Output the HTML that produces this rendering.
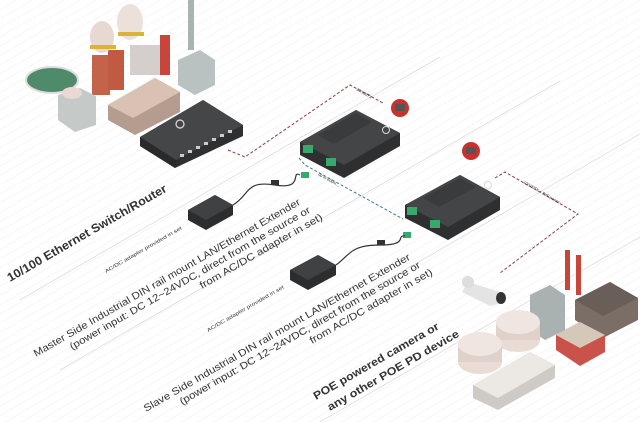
<!DOCTYPE html>
<html><head><meta charset="utf-8"><style>
html,body{margin:0;padding:0;background:#fff}
svg{display:block}
text{font-family:"Liberation Sans","DejaVu Sans",sans-serif;fill:#333}
</style></head><body>
<svg width="640" height="422" viewBox="0 0 640 422" xmlns="http://www.w3.org/2000/svg">
<defs>
<pattern id="g" width="16" height="9.24" patternUnits="userSpaceOnUse">
<path d="M0 9.24 L16 0" stroke="#f0f0f0" stroke-width="0.6"/>
</pattern>
</defs>
<rect width="640" height="422" fill="#fff"/>
<rect width="640" height="422" fill="url(#g)"/>
<g stroke="#dcdcdc" stroke-width="0.8">
<line x1="20" y1="300" x2="440" y2="57"/>
<line x1="60" y1="370" x2="560" y2="81"/>
<line x1="180" y1="400" x2="640" y2="134"/>
<line x1="320" y1="422" x2="640" y2="237"/>
</g>

<g>
<ellipse cx="52" cy="80" rx="26" ry="13" fill="#4f8a6a" stroke="#ddd" stroke-width="2"/>
<rect x="92" y="55" width="18" height="40" fill="#c4624a"/>
<rect x="108" y="50" width="16" height="40" fill="#c05a40"/>
<ellipse cx="102" cy="37" rx="12" ry="16" fill="#e8d8d2"/>
<ellipse cx="130" cy="22" rx="13" ry="18" fill="#ece0da"/>
<rect x="90" y="45" width="26" height="4" fill="#d9b43a"/>
<rect x="118" y="32" width="26" height="4" fill="#d9b43a"/>
<rect x="130" y="45" width="35" height="30" fill="#d4cfcc"/>
<rect x="160" y="35" width="10" height="40" fill="#c9443a"/>
<rect x="188" y="0" width="6" height="50" fill="#a9b3b2"/>
<polygon points="178,60 200,50 215,60 215,85 195,95 178,85" fill="#b9c2c1"/>
<polygon points="58,95 80,88 96,96 96,125 75,132 58,120" fill="#c5c9c8"/>
<ellipse cx="72" cy="93" rx="10" ry="6" fill="#ead8d2"/>
<polygon points="108,105 155,78 180,92 180,112 135,135 108,120" fill="#b49c8e"/>
<polygon points="108,105 155,78 180,92 133,118" fill="#d9c2b3"/>
</g>

<polygon points="140,137 203,100 243,125 243,136 175,168 140,146" fill="#2e2f31"/>
<polygon points="140,137 203,100 243,125 176,160" fill="#454648"/>
<polygon points="140,137 176,160 175,168 140,146" fill="#2a2a2b"/>
<g fill="#ccc"><rect x="180" y="154" width="4" height="3"/><rect x="188" y="150" width="4" height="3"/><rect x="196" y="146" width="4" height="3"/><rect x="204" y="142" width="4" height="3"/><rect x="212" y="138" width="4" height="3"/><rect x="220" y="134" width="4" height="3"/><rect x="228" y="130" width="4" height="3"/></g>
<circle cx="180" cy="124" r="4" fill="none" stroke="#ddd" stroke-width="1.2"/>

<g fill="none" stroke="#8a3a44" stroke-width="1" stroke-dasharray="3,2">
<polyline points="228,150 245,157 350,85 383,103"/>
<polyline points="495,178 505,172 578,214 500,273"/>
</g>
<polyline points="299,158 305,165 403,219" fill="none" stroke="#3e7c8c" stroke-width="1" stroke-dasharray="3,2"/>
<text transform="translate(356,90) rotate(30)" font-size="4" fill="#8a3a44">10/100TX</text>
<text transform="translate(523,183) rotate(30)" font-size="4" fill="#8a3a44">10/100TX + PoE power</text>
<text transform="translate(318,175) rotate(30)" font-size="4" fill="#3e6b9c">up to 600m ...</text>

<polygon points="300,142 356,110 400,133 400,146 344,178 300,155" fill="#2e2f31"/>
<polygon points="300,142 356,110 400,133 344,165" fill="#444547"/>
<polygon points="318,135 356,113 372,122 334,144" fill="#3a3b3d"/>
<circle cx="386" cy="130" r="3.5" fill="none" stroke="#ddd" stroke-width="1"/>
<rect x="303" y="145" width="10" height="8" fill="#3aa86a"/>
<rect x="326" y="158" width="10" height="8" fill="#3aa86a"/>
<rect x="301" y="172" width="8" height="6" fill="#3aa86a"/>
<circle cx="400" cy="108" r="9" fill="#c9312c"/><rect x="395" y="104" width="10" height="7" fill="#555"/>

<polygon points="405,205 460,175 500,197 500,210 448,240 405,218" fill="#2e2f31"/>
<polygon points="405,205 460,175 500,197 448,227" fill="#444547"/>
<polygon points="423,198 460,178 476,187 439,207" fill="#3a3b3d"/>
<circle cx="488" cy="185" r="3.5" fill="none" stroke="#ddd" stroke-width="1"/>
<rect x="407" y="207" width="10" height="8" fill="#3aa86a"/>
<rect x="430" y="220" width="10" height="8" fill="#3aa86a"/>
<rect x="403" y="232" width="8" height="6" fill="#3aa86a"/>
<circle cx="471" cy="151" r="9" fill="#c9312c"/><rect x="466" y="147" width="10" height="7" fill="#555"/>

<polygon points="188,210 215,195 233,205 233,215 206,230 188,220" fill="#2c2d2f"/>
<polygon points="188,210 215,195 233,205 206,220" fill="#404143"/>
<path d="M233,205 C250,195 245,180 275,185 S290,170 300,175" fill="none" stroke="#333" stroke-width="1.2"/>
<rect x="271" y="180" width="8" height="5" fill="#333"/>
<polygon points="290,270 318,255 336,265 336,275 308,290 290,280" fill="#2c2d2f"/>
<polygon points="290,270 318,255 336,265 308,280" fill="#404143"/>
<path d="M336,265 C350,255 350,245 380,245 S395,235 405,236" fill="none" stroke="#333" stroke-width="1.2"/>
<rect x="377" y="240" width="8" height="5" fill="#333"/>

<polygon points="468,282 500,292 505,302 490,306 462,292" fill="#e4e4e4"/>
<circle cx="468" cy="282" r="6" fill="#ddd"/>
<ellipse cx="501" cy="298" rx="5" ry="6" fill="#333"/>

<polygon points="530,295 550,285 565,295 565,330 545,340 530,330" fill="#aab2b1"/>
<rect x="565" y="250" width="5" height="40" fill="#c9443a"/><rect x="576" y="255" width="5" height="40" fill="#c9443a"/>
<polygon points="575,300 610,282 638,298 638,320 603,338 575,320" fill="#7b6e66"/>
<polygon points="575,300 610,282 638,298 603,316" fill="#6a5f58"/>
<polygon points="556,335 580,322 605,335 605,352 580,366 556,350" fill="#c9534a"/>
<polygon points="556,335 580,322 605,335 580,348" fill="#d6c8b9"/>
<ellipse cx="518" cy="340" rx="22" ry="12" fill="#e9dcd6"/>
<rect x="496" y="322" width="44" height="18" fill="#e0d2cb"/>
<ellipse cx="518" cy="322" rx="22" ry="12" fill="#f0e6e1"/>
<ellipse cx="480" cy="362" rx="22" ry="12" fill="#e9dcd6"/>
<rect x="458" y="344" width="44" height="18" fill="#e0d2cb"/>
<ellipse cx="480" cy="344" rx="22" ry="12" fill="#f0e6e1"/>
<polygon points="473,385 530,352 555,365 555,378 498,410 473,398" fill="#cfcac6"/>
<polygon points="473,385 530,352 555,365 498,398" fill="#ece8e4"/>

<text transform="translate(10,282) rotate(-30)" font-size="12" font-weight="bold" fill="#222" textLength="182" lengthAdjust="spacingAndGlyphs">10/100 Ethernet Switch/Router</text>
<text transform="translate(106,273) rotate(-30)" font-size="5" fill="#555" textLength="88" lengthAdjust="spacingAndGlyphs">AC/DC adapter provided in set</text>
<text transform="translate(36,357) rotate(-30)" font-size="10" fill="#333" textLength="306" lengthAdjust="spacingAndGlyphs">Master Side Industrial DIN rail mount LAN/Ethernet Extender</text>
<text transform="translate(72,350) rotate(-30)" font-size="10" fill="#333" textLength="276" lengthAdjust="spacingAndGlyphs">(power input: DC 12~24VDC, direct from the source or</text>
<text transform="translate(202,289) rotate(-30)" font-size="10" fill="#333" textLength="140" lengthAdjust="spacingAndGlyphs">from AC/DC adapter in set)</text>
<text transform="translate(208,332) rotate(-30)" font-size="5" fill="#555" textLength="88" lengthAdjust="spacingAndGlyphs">AC/DC adapter provided in set</text>
<text transform="translate(146,412) rotate(-30)" font-size="10" fill="#333" textLength="306" lengthAdjust="spacingAndGlyphs">Slave Side Industrial DIN rail mount LAN/Ethernet Extender</text>
<text transform="translate(182,405) rotate(-30)" font-size="10" fill="#333" textLength="276" lengthAdjust="spacingAndGlyphs">(power input: DC 12~24VDC, direct from the source or</text>
<text transform="translate(312,344) rotate(-30)" font-size="10" fill="#333" textLength="140" lengthAdjust="spacingAndGlyphs">from AC/DC adapter in set)</text>
<text transform="translate(316,400) rotate(-30)" font-size="11" font-weight="bold" fill="#222" textLength="143" lengthAdjust="spacingAndGlyphs">POE powered camera or</text>
<text transform="translate(330,411) rotate(-30)" font-size="11" font-weight="bold" fill="#222" textLength="150" lengthAdjust="spacingAndGlyphs">any other POE PD device</text>
</svg>
</body></html>
